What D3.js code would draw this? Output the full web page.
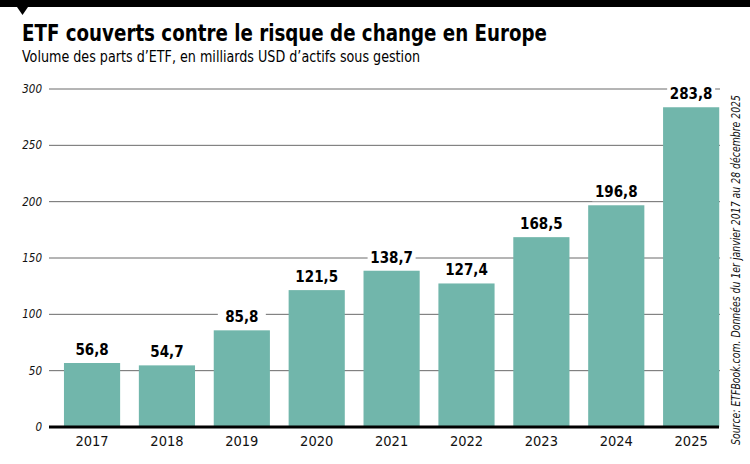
<!DOCTYPE html>
<html>
<head>
<meta charset="utf-8">
<script src="https://cdn.jsdelivr.net/npm/d3@7"></script>
<style>
  body { margin: 0; background: #fff; }
  svg { display: block; }
</style>
</head>
<body>
<div id="chart"></div>
<script>
// Data
const years = ["2017", "2018", "2019", "2020", "2021", "2022", "2023", "2024", "2025"];
const volumes = [56.8, 54.7, 85.8, 121.5, 138.7, 127.4, 168.5, 196.8, 283.8];
const yTicks = [0, 50, 100, 150, 200, 250, 300];

const width = 750, height = 464;
const narrow = "'Liberation Sans Narrow', 'Arial Narrow', 'DejaVu Sans Condensed', sans-serif";

const svg = d3.select("#chart")
    .append("svg")
    .attr("width", width)
    .attr("height", height);

// top black band with small marker
svg.append("rect").attr("x", 0).attr("y", 0).attr("width", width).attr("height", 7).attr("fill", "#000");
svg.append("path").attr("d", "M17,7 L28,7 L22.5,15 Z").attr("fill", "#000");

// titles
svg.append("text")
    .attr("x", 22).attr("y", 41)
    .attr("font-family", narrow)
    .attr("font-weight", "bold")
    .attr("font-size", 23)
    .attr("textLength", 525)
    .attr("lengthAdjust", "spacingAndGlyphs")
    .text("ETF couverts contre le risque de change en Europe");

svg.append("text")
    .attr("x", 22).attr("y", 62)
    .attr("font-family", narrow)
    .attr("font-size", 15.5)
    .attr("textLength", 398)
    .attr("lengthAdjust", "spacingAndGlyphs")
    .text("Volume des parts d\u2019ETF, en milliards USD d\u2019actifs sous gestion");

// scales
const x = d3.scaleBand()
    .domain(years)
    .range([54.6, 728.6])
    .paddingInner(0.25)
    .paddingOuter(0.125);

const y = d3.scaleLinear()
    .domain([0, 300])
    .range([427, 89]);

// gridlines + tick labels
const grid = svg.append("g");
grid.selectAll("line")
    .data(yTicks.filter(d => d > 0))
    .enter()
    .append("line")
    .attr("x1", 49).attr("x2", 720)
    .attr("y1", d => y(d)).attr("y2", d => y(d))
    .attr("stroke", "#6a6a6a")
    .attr("stroke-width", 1);

grid.selectAll("text")
    .data(yTicks)
    .enter()
    .append("text")
    .attr("x", 42)
    .attr("y", d => y(d) + 4)
    .attr("text-anchor", "end")
    .attr("font-family", narrow)
    .attr("font-style", "italic")
    .attr("font-size", 11.5)
    .attr("fill", "#111")
    .text(d => d);

// bars
svg.append("g").selectAll("rect")
    .data(volumes)
    .enter()
    .append("rect")
    .attr("x", (d, i) => x(years[i]))
    .attr("y", d => y(d))
    .attr("width", x.bandwidth())
    .attr("height", d => y(0) - y(d))
    .attr("fill", "#71b6ab");

// value labels with white knockout behind them
const fmt = d => d.toFixed(1).replace(".", ",");
const labels = svg.append("g").selectAll("g")
    .data(volumes)
    .enter()
    .append("g")
    .attr("transform", (d, i) => `translate(${x(years[i]) + x.bandwidth() / 2}, ${y(d) - 8})`);

labels.append("rect")
    .attr("x", -24).attr("y", -15)
    .attr("width", 48).attr("height", 19)
    .attr("fill", "#fff");

labels.append("text")
    .attr("text-anchor", "middle")
    .attr("font-family", narrow)
    .attr("font-weight", "bold")
    .attr("font-size", 15)
    .attr("fill", "#000")
    .text(fmt);

// baseline
svg.append("line")
    .attr("x1", 49).attr("x2", 719)
    .attr("y1", y(0)).attr("y2", y(0))
    .attr("stroke", "#000")
    .attr("stroke-width", 3);

// x axis labels
svg.append("g").selectAll("text")
    .data(years)
    .enter()
    .append("text")
    .attr("x", d => x(d) + x.bandwidth() / 2)
    .attr("y", 446)
    .attr("text-anchor", "middle")
    .attr("font-family", narrow)
    .attr("font-size", 14.5)
    .attr("fill", "#111")
    .text(d => d);

// source, rotated along the right edge
svg.append("text")
    .attr("transform", "translate(740, 445) rotate(-90)")
    .attr("font-family", narrow)
    .attr("font-style", "italic")
    .attr("font-size", 12)
    .attr("textLength", 350)
    .attr("lengthAdjust", "spacingAndGlyphs")
    .attr("fill", "#111")
    .text("Source: ETFBook.com. Donn\u00e9es du 1er janvier 2017 au 28 d\u00e9cembre 2025");
</script>
</body>
</html>
